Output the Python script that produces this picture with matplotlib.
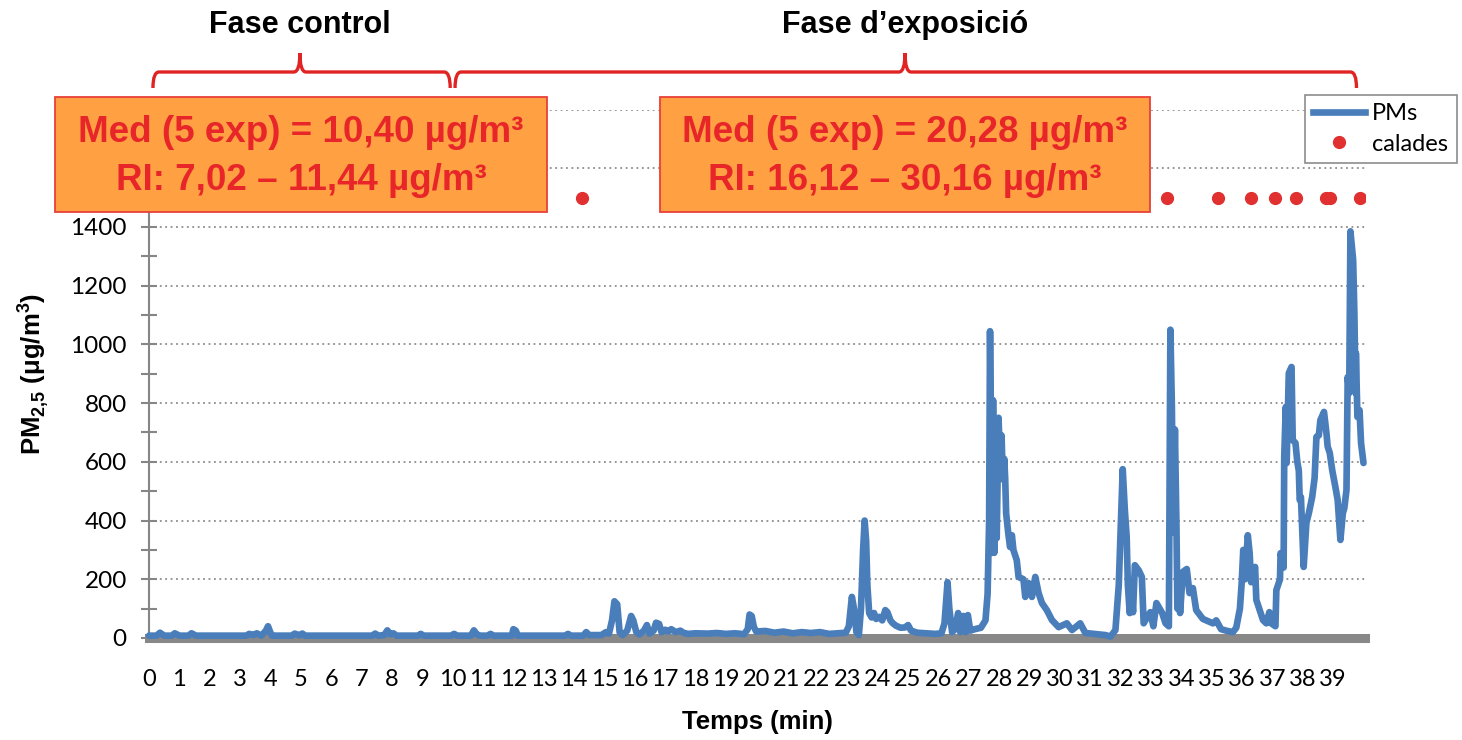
import matplotlib
matplotlib.use("Agg")
import matplotlib.pyplot as plt
from matplotlib.patches import Rectangle, PathPatch
from matplotlib.path import Path
from matplotlib.lines import Line2D
from matplotlib.transforms import blended_transform_factory

# PM2.5 trace (time in min, value in ug/m3)
t_min = [0, 0.25, 0.36, 0.5, 0.75, 0.85, 1.0, 1.3, 1.4, 1.55, 3.2, 3.3, 3.45, 3.55, 3.7,
         3.85, 3.92, 4.0, 4.05, 4.7, 4.8, 4.95, 5.05, 5.15, 7.35, 7.45, 7.55, 7.75, 7.85,
         7.95, 8.05, 8.15, 8.85, 8.95, 9.05, 9.95, 10.05, 10.15, 10.6, 10.7, 10.8, 10.9,
         11.15, 11.25, 11.35, 11.95, 12.0, 12.08, 12.15, 13.7, 13.8, 13.9, 14.3, 14.4, 14.5,
         14.9, 15.05, 15.15, 15.25, 15.33, 15.42, 15.5, 15.6, 15.75, 15.88, 15.95, 16.05,
         16.15, 16.3, 16.4, 16.48, 16.62, 16.7, 16.8, 16.88, 17.0, 17.1, 17.2, 17.35, 17.5,
         17.6, 17.75, 18.0, 18.4, 18.7, 19.0, 19.3, 19.6, 19.72, 19.78, 19.85, 19.92, 20.0,
         20.3, 20.6, 20.9, 21.2, 21.5, 21.8, 22.1, 22.4, 22.7, 22.95, 23.05, 23.15, 23.22,
         23.3, 23.38, 23.45, 23.52, 23.57, 23.62, 23.66, 23.72,
         23.8, 23.88, 23.95, 24.05, 24.15, 24.25, 24.32, 24.42, 24.5, 24.6, 24.75, 24.9,
         25.0, 25.1, 25.3, 25.6, 25.9, 26.1, 26.2, 26.3, 26.36, 26.45, 26.55, 26.65, 26.72,
         26.82, 26.9, 26.97, 27.05, 27.2, 27.4, 27.55, 27.62, 27.67, 27.7,
         27.74, 27.77, 27.8, 27.84, 27.88, 27.92, 27.98, 28.03, 28.08, 28.12, 28.17, 28.2,
         28.23, 28.3, 28.36, 28.42, 28.47, 28.58, 28.64, 28.8, 28.86, 28.97, 29.08, 29.19,
         29.3, 29.41, 29.57, 29.74, 29.96, 30.23, 30.4, 30.67, 30.84, 31.5, 31.67, 31.83,
         31.94, 32.07, 32.14, 32.2, 32.24, 32.3, 32.35, 32.41, 32.47, 32.6, 32.7, 32.76,
         32.87, 32.98, 33.08, 33.18, 33.37, 33.48, 33.59, 33.64,
         33.69, 33.73, 33.79, 33.84, 33.87, 33.93, 33.96, 34.05, 34.18, 34.27, 34.38, 34.49,
         34.71, 35.04, 35.15, 35.31, 35.48, 35.7, 35.81, 35.93, 35.99, 36.04, 36.1, 36.19,
         36.25, 36.3, 36.43, 36.47, 36.58, 36.69, 36.8, 36.9, 36.96, 37.1, 37.13, 37.25,
         37.27, 37.37, 37.39, 37.44, 37.47, 37.54, 37.63, 37.67, 37.76, 37.82, 37.87, 37.9,
         37.94, 38.03, 38.12, 38.2, 38.31, 38.39, 38.45, 38.53, 38.58, 38.7, 38.78, 38.82,
         38.89, 38.97, 39.08, 39.15, 39.24, 39.32, 39.37, 39.44, 39.48, 39.53, 39.57, 39.66,
         39.7, 39.74, 39.75, 39.8, 39.87, 39.92, 40.0]
pm25 = [8, 8, 18, 8, 8, 16, 8, 8, 16, 8, 8, 14, 10, 16, 8,
        25, 40, 18, 8, 8, 15, 9, 15, 8, 8, 15, 8, 10, 26,
        12, 16, 8, 8, 14, 8, 8, 14, 8, 8, 26, 12, 8,
        8, 14, 8, 8, 30, 25, 8, 8, 14, 8, 8, 20, 10,
        10, 20, 15, 60, 125, 115, 20, 10, 25, 75, 60, 20,
        12, 25, 44, 15, 25, 52, 48, 20, 28, 22, 30, 20, 25,
        18, 14, 16, 15, 17, 14, 16, 13, 30, 80, 75, 38, 22,
        24, 18, 22, 16, 20, 17, 20, 14, 16, 18, 40, 140, 100,
        20, 10, 100, 300, 400, 330, 180, 85,
        70, 85, 65, 72, 60, 95, 88, 60, 50, 42, 35, 36,
        44, 25, 18, 16, 14, 16, 50, 190, 100, 20, 30, 85, 20,
        75, 20, 78, 25, 30, 35, 60, 150, 400, 1045,
        600, 290, 810, 290, 490, 340, 750, 605, 690, 540, 610, 540,
        425, 357, 310, 350, 300, 265, 208, 200, 140, 187, 140, 208,
        153, 119, 95, 61, 37, 50, 27, 50, 17, 10, 5, 27,
        180, 575, 436, 345, 180, 85, 180, 88, 248, 230, 208, 50,
        70, 88, 40, 119, 85, 50, 40, 1050,
        787, 360, 710, 380, 100, 150, 85, 225, 235, 153, 170, 95,
        65, 50, 60, 30, 25, 20, 35, 100, 190, 300, 200, 350,
        290, 190, 242, 130, 95, 61, 50, 88, 50, 40, 163, 200,
        289, 240, 617, 787, 596, 902, 923, 674, 664, 600, 570, 470,
        480, 242, 392, 425, 480, 545, 685, 690, 742, 770, 698, 652,
        630, 572, 511, 470, 334, 425, 443, 504, 889, 834, 1385, 1287,
        1107, 834, 970, 753, 776, 664, 596]

# sampling moments ("calades")
calades_t = [14.27, 33.54, 35.22, 36.31, 37.07, 37.79, 38.78, 38.91, 39.9]
calades_y = [1500] * len(calades_t)

x_ticks = list(range(0, 40))
y_ticks = list(range(0, 2000, 200))
y_labels = [str(v) if v <= 1400 else '' for v in y_ticks]   # 1600/1800 sit under the box

phases = ["Fase control", "Fase d\u2019exposici\u00f3"]
phase_span = [(0.13, 4.97, 9.92), (10.08, 24.9, 39.77)]
box_text = [["Med (5 exp) = 10,40 \u00b5g/m\u00b3", "RI: 7,02 \u2013 11,44 \u00b5g/m\u00b3"],
            ["Med (5 exp) = 20,28 \u00b5g/m\u00b3", "RI: 16,12 \u2013 30,16 \u00b5g/m\u00b3"]]

plt.rcParams['font.family'] = ['Liberation Sans', 'DejaVu Sans']
plt.rcParams['mathtext.fontset'] = 'custom'
plt.rcParams['mathtext.rm'] = 'Liberation Sans:bold'
plt.rcParams['mathtext.bf'] = 'Liberation Sans:bold'

W, H = 1462, 740
fig = plt.figure(figsize=(W / 100, H / 100), dpi=100)
ax = fig.add_axes([149 / W, 1 - 638 / H, (1365 - 149) / W, (638 - 109.5) / H])

blue = '#4a7ebb'
red_txt = '#e8262a'

ax.plot(t_min, pm25, color=blue, lw=4.8, solid_joinstyle='round', solid_capstyle='round',
        zorder=3, clip_on=False)
ax.plot(calades_t, calades_y, 'o', color='#e03030', markersize=8.5, zorder=3)

ax.set_xlim(0, 40.05)
ax.set_ylim(0, 1800)
ax.set_xticks(x_ticks)
ax.set_xticklabels([str(v) for v in x_ticks], family='Lato', fontsize=17)
ax.set_yticks(y_ticks)
ax.set_yticks(list(range(100, 1800, 200)), minor=True)
ax.set_yticklabels(y_labels, family='Lato', fontsize=17.5)
ax.tick_params(axis='x', length=0, pad=22)
ax.tick_params(axis='y', which='both', direction='inout', length=12, width=1.5,
               color='#868686', pad=10)

ax.yaxis.grid(True, linestyle=(0, (1, 2)), color='#8c8c8c', lw=1.3)
ax.set_axisbelow(True)
for s in ['top', 'right']:
    ax.spines[s].set_visible(False)
ax.spines['left'].set_color('#868686')
ax.spines['left'].set_linewidth(1.5)
ax.spines['bottom'].set_color('#888888')
ax.spines['bottom'].set_linewidth(6.5)
ax.spines['bottom'].set_zorder(2)

ax.set_xlabel('Temps (min)', fontsize=18.5, fontweight='bold', labelpad=15)
ax.set_ylabel(r'PM$_{\mathbf{2{,}5}}$ ($\mathbf{\mu}$g/m$^{\mathbf{3}}$)', fontsize=18.5,
              fontweight='bold', labelpad=14)

# braces and phase titles
tr = blended_transform_factory(ax.transData, fig.transFigure)
yl, yb, yt = 1 - 72 / H, 1 - 88 / H, 1 - 53 / H
d = 0.2
for name, (x0, xc, x1) in zip(phases, phase_span):
    verts = [(x0, yb), (x0, yl), (x0 + d, yl), (xc - d, yl), (xc, yl), (xc, yt),
             (xc, yl), (xc + d, yl), (x1 - d, yl), (x1, yl), (x1, yb)]
    codes = [Path.MOVETO, Path.CURVE3, Path.CURVE3, Path.LINETO, Path.CURVE3, Path.CURVE3,
             Path.CURVE3, Path.CURVE3, Path.LINETO, Path.CURVE3, Path.CURVE3]
    fig.add_artist(PathPatch(Path(verts, codes), transform=tr, fill=False,
                             edgecolor='#e02424', lw=2.4))
    fig.text(xc, 1 - 25 / H, name, transform=tr, ha='center', va='center',
             fontsize=22, fontweight='bold')

# orange summary boxes
for (bx0, bx1), lines in zip([(55, 547), (660, 1150)], box_text):
    fig.add_artist(Rectangle((bx0 / W, 1 - 212 / H), (bx1 - bx0) / W, 115 / H,
                             transform=fig.transFigure, facecolor='#ffa142',
                             edgecolor='#e8403a', lw=1.3, zorder=5))
    cx = (bx0 + bx1) / 2 / W
    fig.text(cx, 1 - 132 / H, lines[0], ha='center', va='center', fontsize=26.5,
             fontweight='bold', color=red_txt, zorder=6)
    fig.text(cx, 1 - 181 / H, lines[1], ha='center', va='center', fontsize=26.5,
             fontweight='bold', color=red_txt, zorder=6)

handles = [Line2D([], [], color=blue, lw=4.8),
           Line2D([], [], color='#e03030', marker='o', ls='none', markersize=8.5)]
leg = fig.legend(handles, ['PMs', 'calades'], loc='upper left',
                 bbox_to_anchor=(1305 / W, 1 - 95 / H), prop={'family': 'Lato', 'size': 17},
                 fancybox=False, edgecolor='#8c8c8c', framealpha=1, handlelength=2.2,
                 handletextpad=0.3, labelspacing=0.4, borderpad=0.35, borderaxespad=0)
leg.get_frame().set_linewidth(1.2)
leg.set_zorder(7)

fig.savefig('out.png', dpi=100)
